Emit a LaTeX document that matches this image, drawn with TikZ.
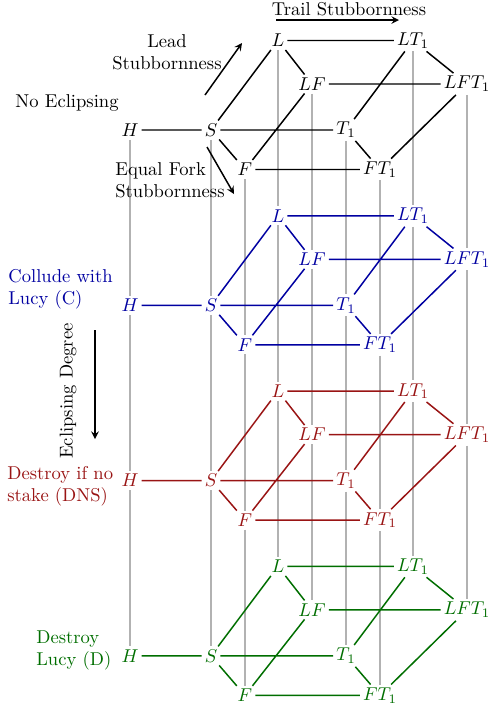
\documentclass[tikz,border=0pt]{standalone}
\usetikzlibrary{arrows}
\definecolor{layer0}{rgb}{0,0,0}
\definecolor{layer1}{rgb}{0,0,0.63}
\definecolor{layer2}{rgb}{0.6,0.08,0.08}
\definecolor{layer3}{rgb}{0,0.43,0}
\begin{document}
\begin{tikzpicture}[x=0.538pt,y=-0.538pt,
  state/.style={inner sep=1.5pt},
  edge/.style={thick},
  link/.style={gray!60,semithick},
  tag/.style={align=left,inner sep=0pt},
  dir/.style={thick,-stealth}]
\useasboundingbox (0,0) rectangle (494,708);
\pgfmathsetmacro\layergap{175.3}
% one cube of states per eclipsing degree
\foreach \i in {0,...,3} {
  \pgfmathsetmacro\dy{\i*\layergap}
  \node[state,text=layer\i] (H\i) at (130,130+\dy) {$H$};
  \node[state,text=layer\i] (S\i) at (211,130+\dy) {$S$};
  \node[state,text=layer\i] (F\i) at (245,169.5+\dy) {$F$};
  \node[state,text=layer\i] (L\i) at (278,40.5+\dy) {$L$};
  \node[state,text=layer\i] (LF\i) at (312,84+\dy) {$LF$};
  \node[state,text=layer\i] (T\i) at (346,130+\dy) {$T_1$};
  \node[state,text=layer\i] (FT\i) at (380,169.5+\dy) {$FT_1$};
  \node[state,text=layer\i] (LT\i) at (413,40.5+\dy) {$LT_1$};
  \node[state,text=layer\i] (LFT\i) at (467,84+\dy) {$LFT_1$};
}
\foreach \n in {H,S,F,L,LF,T,FT,LT,LFT}
  \foreach \i/\j in {0/1,1/2,2/3}
    \draw[link] (\n\i) -- (\n\j);
\foreach \i in {0,...,3}
  \draw[edge,layer\i] (H\i) -- (S\i) (S\i) -- (L\i) (S\i) -- (F\i) (S\i) -- (T\i)
    (L\i) -- (LF\i) (F\i) -- (LF\i) (L\i) -- (LT\i) (F\i) -- (FT\i)
    (LF\i) -- (LFT\i) (T\i) -- (LT\i) (T\i) -- (FT\i)
    (LT\i) -- (LFT\i) (FT\i) -- (LFT\i);
% degree labels
\node[tag] (noecl) at (67,103) {No Eclipsing};
\node[tag,anchor=west,text=layer1] (collude) at (8,289) {Collude with\\Lucy (C)};
\node[tag,anchor=west,text=layer2] (dns) at (7,486.5) {Destroy if no\\stake (DNS)};
\node[tag,anchor=west,text=layer3] (destroy) at (36,650.5) {Destroy\\Lucy (D)};
% directions
\node[tag] (trail) at (349,9) {Trail Stubbornness};
\coordinate (trailA) at (276,20);
\coordinate (trailB) at (399,20);
\draw[dir] (trailA) -- (trailB);
\node[tag,align=center] (lead) at (167,52) {Lead\\Stubbornness};
\coordinate (leadA) at (205,95);
\coordinate (leadB) at (242,43);
\draw[dir] (leadA) -- (leadB);
\node[tag,anchor=west] (fork) at (115,180) {Equal Fork\\Stubbornness};
\coordinate (forkA) at (207,147);
\coordinate (forkB) at (234,194);
\draw[dir] (forkA) -- (forkB);
\node[tag,rotate=90] (degree) at (68,391) {Eclipsing Degree};
\coordinate (degA) at (95,330);
\coordinate (degB) at (95,439);
\draw[dir] (degA) -- (degB);
\end{tikzpicture}
\end{document}
